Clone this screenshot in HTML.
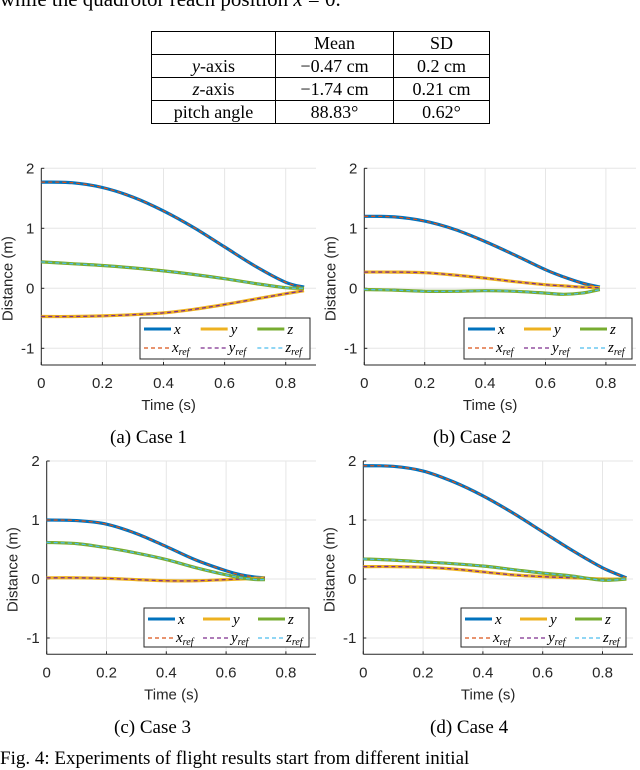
<!DOCTYPE html>
<html><head><meta charset="utf-8"><style>
body{margin:0;background:#fff;width:640px;height:765px;overflow:hidden;position:relative;font-family:"Liberation Serif",serif;}
.t{position:absolute;color:#000;}
table{position:absolute;left:151px;top:31px;border-collapse:collapse;font-size:18px;}
td{border:1.3px solid #000;height:22px;padding:0;text-align:center;line-height:22px;}
</style></head><body>
<div class="t" style="left:0;top:-13px;font-size:21px;white-space:nowrap">while the quadrotor reach position <i>x</i> = 0.</div>
<table>
<tr><td style="width:123px"></td><td style="width:117px">Mean</td><td style="width:95px">SD</td></tr>
<tr><td><i>y</i>-axis</td><td>−0.47 cm</td><td>0.2 cm</td></tr>
<tr><td><i>z</i>-axis</td><td>−1.74 cm</td><td>0.21 cm</td></tr>
<tr><td>pitch angle</td><td>88.83°</td><td>0.62°</td></tr>
</table>
<svg id="svg" width="640" height="765" style="position:absolute;left:0;top:0"></svg>
<div class="t" style="left:110px;top:427px;font-size:19px">(a) Case 1</div>
<div class="t" style="left:433px;top:427px;font-size:19px">(b) Case 2</div>
<div class="t" style="left:114px;top:717px;font-size:19px">(c) Case 3</div>
<div class="t" style="left:430px;top:717px;font-size:19px">(d) Case 4</div>
<div class="t" style="left:0;top:748px;font-size:19px;white-space:nowrap">Fig. 4: Experiments of flight results start from different initial</div>
<script>
// data per case
const t1=[0,0.1,0.2,0.3,0.4,0.5,0.6,0.7,0.8,0.86];
const x1=[1.77,1.76,1.68,1.52,1.29,1.01,0.69,0.37,0.1,0.02];
const y1=[-0.47,-0.47,-0.46,-0.44,-0.41,-0.35,-0.27,-0.18,-0.09,-0.04];
const z1=[0.44,0.41,0.38,0.34,0.29,0.23,0.16,0.08,0.01,0.0];
const t2=[0,0.1,0.2,0.3,0.4,0.5,0.6,0.66,0.72,0.78];
const x2=[1.2,1.19,1.12,0.98,0.78,0.55,0.31,0.19,0.09,0.02];
const y2=[0.27,0.27,0.26,0.22,0.17,0.11,0.06,0.04,0.02,0.01];
const z2=[-0.02,-0.03,-0.05,-0.05,-0.04,-0.05,-0.08,-0.1,-0.08,-0.02];
const t3=[0,0.1,0.2,0.3,0.4,0.5,0.6,0.65,0.7,0.73];
const x3=[1.0,0.99,0.93,0.77,0.55,0.32,0.14,0.07,0.03,0.02];
const y3=[0.02,0.02,0.01,-0.01,-0.03,-0.03,-0.01,0.0,0.01,0.02];
const z3=[0.62,0.6,0.53,0.44,0.33,0.19,0.07,0.02,-0.01,-0.01];
const t4=[0,0.1,0.2,0.3,0.4,0.5,0.6,0.7,0.8,0.88];
const x4=[1.92,1.91,1.83,1.65,1.41,1.12,0.8,0.48,0.19,0.02];
const y4=[0.21,0.21,0.2,0.17,0.12,0.07,0.04,0.02,0.0,0.0];
const z4=[0.34,0.32,0.29,0.26,0.22,0.16,0.1,0.05,-0.02,0.0];
const xTicks=[0,0.2,0.4,0.6,0.8];
const yTicks=[-1,0,1,2];
const NS="http://www.w3.org/2000/svg";
const svg=document.getElementById('svg');
function mk(tag,attrs,parent){const e=document.createElementNS(NS,tag);for(const k in attrs)e.setAttribute(k,attrs[k]);(parent||svg).appendChild(e);return e;}
const panels=[
 {id:'a',t:t1,x:x1,y:y1,z:z1,L:41.3,R:316,T:168.3,B:365,pps:305.5,ppu:60,leg:[140,318,310,359]},
 {id:'b',t:t2,x:x2,y:y2,z:z2,L:364.3,R:636,T:168.3,B:365,pps:302,ppu:60,leg:[464,318,632,359]},
 {id:'c',t:t3,x:x3,y:y3,z:z3,L:46.7,R:316,T:461,B:654.3,pps:299,ppu:59,leg:[144,608,309,647]},
 {id:'d',t:t4,x:x4,y:y4,z:z4,L:363.3,R:633,T:461,B:654.3,pps:299,ppu:59,leg:[461,608,626,647]}];
function path(ts,vs,sx,sy){
 const P=ts.map((t,i)=>[sx(t),sy(vs[i])]);let d=`M${P[0][0]},${P[0][1]}`;
 for(let i=0;i<P.length-1;i++){const p0=P[Math.max(0,i-1)],p1=P[i],p2=P[i+1],p3=P[Math.min(P.length-1,i+2)];
  d+=` C${p1[0]+(p2[0]-p0[0])/6},${p1[1]+(p2[1]-p0[1])/6} ${p2[0]-(p3[0]-p1[0])/6},${p2[1]-(p3[1]-p1[1])/6} ${p2[0]},${p2[1]}`;}
 return d;}
panels.forEach(p=>{
 const g=mk('g',{});
 
 
 const sx=t=>p.L+t*p.pps, sy=v=>p.T+(2-v)*p.ppu;
 xTicks.forEach(v=>{mk('line',{x1:sx(v),x2:sx(v),y1:p.T,y2:p.B,stroke:'#e6e6e6','stroke-width':1},g);
  const tx=mk('text',{x:sx(v),y:p.B+23,'text-anchor':'middle','font-size':15,fill:'#262626','font-family':'Liberation Sans, sans-serif'},g);tx.textContent=v;
  mk('line',{x1:sx(v),x2:sx(v),y1:p.B,y2:p.B-3,stroke:'#262626'},g);});
 yTicks.forEach(v=>{mk('line',{x1:p.L,x2:p.R,y1:sy(v),y2:sy(v),stroke:'#e6e6e6','stroke-width':1},g);
  const tx=mk('text',{x:p.L-7,y:sy(v)+5,'text-anchor':'end','font-size':15,fill:'#262626','font-family':'Liberation Sans, sans-serif'},g);tx.textContent=v;
  mk('line',{x1:p.L,x2:p.L+3,y1:sy(v),y2:sy(v),stroke:'#262626'},g);});
 mk('line',{x1:p.L,x2:p.L,y1:p.T,y2:p.B,stroke:'#262626','stroke-width':1},g);
 mk('line',{x1:p.L,x2:p.R,y1:p.B,y2:p.B,stroke:'#262626','stroke-width':1},g);
 const xl=mk('text',{x:(p.L+p.R)/2-10,y:p.B+45,'text-anchor':'middle','font-size':15,fill:'#262626','font-family':'Liberation Sans, sans-serif'},g);xl.textContent='Time (s)';
 
 const cy=(p.T+p.B)/2+12, cx=p.L-29;
 const yl=mk('text',{x:cx,y:cy,transform:`rotate(-90 ${cx} ${cy})`,'text-anchor':'middle','font-size':15,fill:'#262626','font-family':'Liberation Sans, sans-serif'},g);yl.textContent='Distance (m)';
 
 [['x','#0072bd','#d95319'],['y','#edb120','#7e2f8e'],['z','#77ac30','#4dbeee']].forEach(s=>{
  const d=path(p.t,p[s[0]],sx,sy);
  const l=mk('path',{d:d,fill:'none',stroke:s[1],'stroke-width':3.2},g);
  
  
  const r=mk('path',{d:d,fill:'none',stroke:s[2],'stroke-width':1.3,'stroke-dasharray':'4 3'},g);
  
  
 });
 const [a,b,c,e]=p.leg;
 const lg=mk('g',{},g);
 
 
 mk('rect',{x:a,y:b,width:c-a,height:e-b,fill:'#fff',stroke:'#262626','stroke-width':1},lg);
 const cw=(c-a)/3;
 [['x','#0072bd','#d95319'],['y','#edb120','#7e2f8e'],['z','#77ac30','#4dbeee']].forEach((s,i)=>{
  const x0=a+4+i*cw, r1=b+11, r2=b+30;
  mk('line',{x1:x0,x2:x0+27,y1:r1,y2:r1,stroke:s[1],'stroke-width':3},lg);
  const t=mk('text',{x:x0+30,y:r1+5,'font-size':15,'font-style':'italic','font-family':'Liberation Serif, serif'},lg);t.textContent=s[0];
  mk('line',{x1:x0,x2:x0+27,y1:r2,y2:r2,stroke:s[2],'stroke-width':1.3,'stroke-dasharray':'4 3'},lg);
  const t2=mk('text',{x:x0+28,y:r2+4,'font-size':15,'font-style':'italic','font-family':'Liberation Serif, serif'},lg);
  t2.innerHTML=s[0]+'<tspan font-size="10" dy="3">ref</tspan>';
 });
});
</script>
</body></html>
